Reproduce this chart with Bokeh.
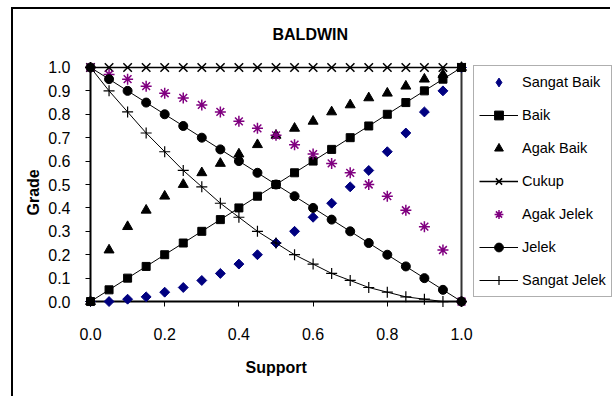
from bokeh.plotting import figure
from bokeh.models import Range1d, FixedTicker, Legend, LegendItem, Title, ColumnDataSource, CDSView, IndexFilter
from bokeh.embed import file_html
from bokeh.resources import INLINE
from math import pi

# ---- data ----
support = [0.00, 0.05, 0.10, 0.15, 0.20, 0.25, 0.30, 0.35, 0.40, 0.45, 0.50,
           0.55, 0.60, 0.65, 0.70, 0.75, 0.80, 0.85, 0.90, 0.95, 1.00]
sangat_baik = [0.00, 0.00, 0.01, 0.02, 0.04, 0.06, 0.09, 0.12, 0.16, 0.20, 0.25,
               0.30, 0.36, 0.42, 0.49, 0.56, 0.64, 0.72, 0.81, 0.90, 1.00]
baik = [0.00, 0.05, 0.10, 0.15, 0.20, 0.25, 0.30, 0.35, 0.40, 0.45, 0.50,
        0.55, 0.60, 0.65, 0.70, 0.75, 0.80, 0.85, 0.90, 0.95, 1.00]
agak_baik = [0.00, 0.22, 0.32, 0.39, 0.45, 0.50, 0.55, 0.59, 0.63, 0.67, 0.71,
             0.74, 0.77, 0.81, 0.84, 0.87, 0.89, 0.92, 0.95, 0.97, 1.00]
cukup = [1.00] * 21
agak_jelek = [1.00, 0.97, 0.95, 0.92, 0.89, 0.87, 0.84, 0.81, 0.77, 0.74, 0.71,
              0.67, 0.63, 0.59, 0.55, 0.50, 0.45, 0.39, 0.32, 0.22, 0.00]
jelek = [1.00, 0.95, 0.90, 0.85, 0.80, 0.75, 0.70, 0.65, 0.60, 0.55, 0.50,
         0.45, 0.40, 0.35, 0.30, 0.25, 0.20, 0.15, 0.10, 0.05, 0.00]
sangat_jelek = [1.00, 0.90, 0.81, 0.72, 0.64, 0.56, 0.49, 0.42, 0.36, 0.30, 0.25,
                0.20, 0.16, 0.12, 0.09, 0.06, 0.04, 0.02, 0.01, 0.00, 0.00]

x_ticks = [0.0, 0.2, 0.4, 0.6, 0.8, 1.0]
x_tick_labels = ["0.0", "0.2", "0.4", "0.6", "0.8", "1.0"]
y_ticks = [0.0, 0.1, 0.2, 0.3, 0.4, 0.5, 0.6, 0.7, 0.8, 0.9, 1.0]
y_tick_labels = ["0.0", "0.1", "0.2", "0.3", "0.4", "0.5", "0.6", "0.7", "0.8", "0.9", "1.0"]

FONT = "Liberation Sans"

# pixel geometry (canvas starts after an 11px margin + 2px border)
W, H = 599, 389
FL, FT, FB = 67, 47, 87
PAD = 10
UNIT_X = 371            # pixels per 1.0 of support
UNIT_Y = 235            # pixels per 1.0 of grade
px_x = PAD / UNIT_X
px_y = PAD / UNIT_Y
x_end = (W - FL - PAD) / UNIT_X

p = figure(width=W, height=H, output_backend="svg", toolbar_location=None,
           x_range=Range1d(-px_x, x_end), y_range=Range1d(-px_y, 1 + px_y),
           min_border_left=FL, min_border_right=0, min_border_top=FT, min_border_bottom=FB,
           background_fill_color="white", border_fill_color="white")
p.styles = {"margin-left": "11px", "margin-top": "7px",
            "border-left": "2px solid black", "border-top": "2px solid black"}
p.outline_line_color = None
p.xgrid.visible = False
p.ygrid.visible = False

p.title.text = "BALDWIN"
p.title.text_font = FONT
p.title.text_font_size = "16px"
p.title.text_font_style = "bold"
p.title.text_color = "black"
p.title.align = "left"
p.title.offset = 192
p.title.standoff = 29

xa = p.xaxis[0]
xa.ticker = FixedTicker(ticks=x_ticks)
xa.major_label_overrides = {t: s for t, s in zip(x_ticks, x_tick_labels)}
xa.minor_tick_line_color = None
xa.major_tick_in = PAD
xa.major_tick_out = -PAD + 5
xa.axis_line_color = None
xa.major_tick_line_color = "black"
xa.major_label_text_font = FONT
xa.major_label_text_font_size = "16px"
xa.major_label_text_color = "black"
xa.major_label_standoff = 16

ya = p.yaxis[0]
ya.ticker = FixedTicker(ticks=y_ticks)
ya.major_label_overrides = {t: s for t, s in zip(y_ticks, y_tick_labels)}
ya.minor_tick_line_color = None
ya.major_tick_in = PAD
ya.major_tick_out = -PAD + 5
ya.axis_line_color = None
ya.major_tick_line_color = "black"
ya.major_label_text_font = FONT
ya.major_label_text_font_size = "16px"
ya.major_label_text_color = "black"
ya.major_label_standoff = 10

p.add_layout(Title(text="Support", text_font=FONT, text_font_size="16px", text_color="black",
                   text_font_style="bold", align="left", offset=165, standoff=29), "below")
p.add_layout(Title(text="Grade", text_font=FONT, text_font_size="16px", text_color="black",
                   text_font_style="bold", align="left", offset=96, standoff=8), "left")

# plot-area border lines (axis lines at the data extent, right border)
x0, x1 = x_ticks[0], x_ticks[-1]
y0, y1 = y_ticks[0], y_ticks[-1]
p.line([x0, x1], [y0, y0], line_color="black", line_width=2)
p.line([x0, x0], [y0, y1], line_color="black", line_width=2)
p.line([x1, x1], [y0, y1], line_color="#333333", line_width=2)

items = []
src1 = ColumnDataSource(dict(x=support, y=sangat_baik))
# legend glyph: a diamond drawn for the first point only (hidden under the marker below)
r1_leg = p.scatter("x", "y", source=src1, view=CDSView(filter=IndexFilter(indices=[0])),
                   marker="diamond", size=9, fill_color="#000080", line_color="#000080")
r1 = p.scatter("x", "y", source=src1, marker="square", angle=pi / 4, size=7,
               fill_color="#000080", line_color="#000080")
items.append(LegendItem(label="Sangat Baik", renderers=[r1_leg]))

l2 = p.line(support, baik, line_color="black", line_width=1)
r2 = p.scatter(support, baik, marker="square", size=8, fill_color="black", line_color="black")
items.append(LegendItem(label="Baik", renderers=[l2, r2]))

r3 = p.scatter(support, agak_baik, marker="triangle", size=10, fill_color="black", line_color="black")
items.append(LegendItem(label="Agak Baik", renderers=[r3]))

l4 = p.line(support, cukup, line_color="black", line_width=1.5)
r4 = p.scatter(support, cukup, marker="x", size=12, line_color="black", line_width=1.5)
items.append(LegendItem(label="Cukup", renderers=[l4, r4]))

r5 = p.scatter(support, agak_jelek, marker="asterisk", size=11, line_color="#800080", line_width=1.5)
items.append(LegendItem(label="Agak Jelek", renderers=[r5]))

l6 = p.line(support, jelek, line_color="black", line_width=1)
r6 = p.scatter(support, jelek, marker="circle", size=9, fill_color="black", line_color="black")
items.append(LegendItem(label="Jelek", renderers=[l6, r6]))

l7 = p.line(support, sangat_jelek, line_color="black", line_width=1)
r7 = p.scatter(support, sangat_jelek, marker="cross", size=11, line_color="black", line_width=1.2)
items.append(LegendItem(label="Sangat Jelek", renderers=[l7, r7]))

legend = Legend(items=items, location=(473 - 13 - FL, 14), padding=5, spacing=11,
                label_height=22, glyph_height=22, glyph_width=39, label_standoff=4,
                label_text_font=FONT, label_text_font_size="14.5px", label_text_color="black",
                border_line_color="#606060", border_line_width=1,
                background_fill_color="white", background_fill_alpha=1,
                margin=0)
p.add_layout(legend)

open("out.html", "w").write(file_html(p, INLINE))
